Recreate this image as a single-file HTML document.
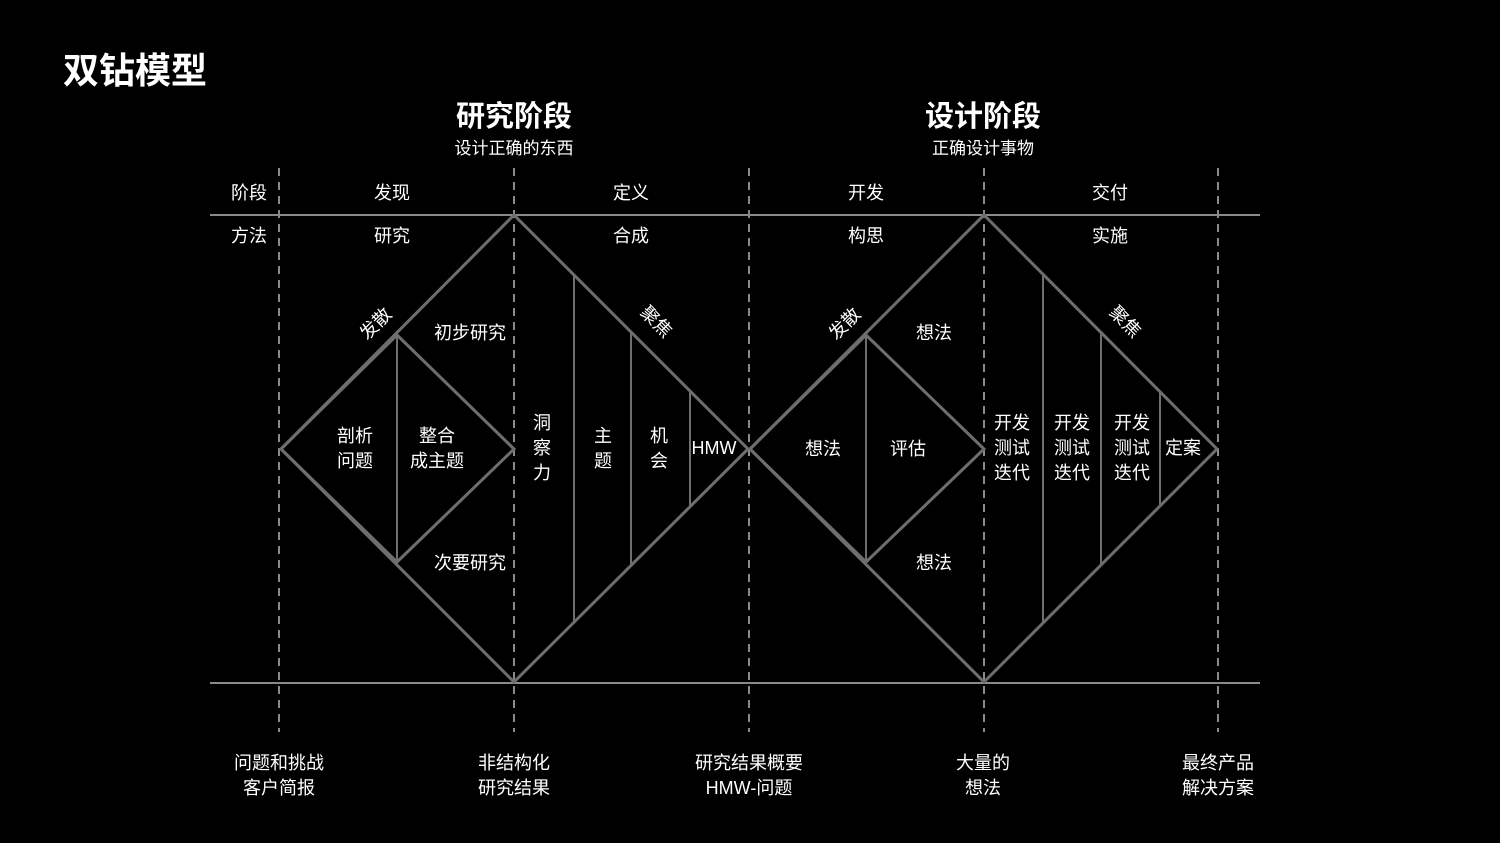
<!DOCTYPE html>
<html><head><meta charset="utf-8"><style>
html,body{margin:0;padding:0;background:#000;}
svg{display:block}
text{font-family:"Liberation Sans","Noto Sans CJK SC",sans-serif;fill:#fff;}
</style></head><body>
<svg width="1500" height="843" viewBox="0 0 1500 843" xmlns="http://www.w3.org/2000/svg">
<rect width="1500" height="843" fill="#000"/>
<text x="63" y="83" font-size="36" font-weight="bold">双钻模型</text>
<g text-anchor="middle">
<text x="514" y="126" font-size="29" font-weight="bold">研究阶段</text>
<text x="514" y="154" font-size="17">设计正确的东西</text>
<text x="983" y="126" font-size="29" font-weight="bold">设计阶段</text>
<text x="983" y="154" font-size="17">正确设计事物</text>
</g>
<g stroke="#8a8a8a" stroke-width="2" stroke-dasharray="8,6">
<line x1="279" y1="168" x2="279" y2="732"/>
<line x1="514" y1="168" x2="514" y2="732"/>
<line x1="749" y1="168" x2="749" y2="732"/>
<line x1="984" y1="168" x2="984" y2="732"/>
<line x1="1218" y1="168" x2="1218" y2="732"/>
</g>
<g stroke="#8a8a8a" stroke-width="2">
<line x1="210" y1="215" x2="1260" y2="215"/>
<line x1="210" y1="683" x2="1260" y2="683"/>
</g>
<g stroke="#6e6e6e" stroke-width="3" fill="none">
<polygon points="514,215 748,449 514,682 281,449"/>
<polygon points="281,449 397,335 514,449 397,562"/>
<polygon points="984,215 1217,449 984,682 750,449"/>
<polygon points="750,449 866,335 984,449 866,562"/>
</g>
<g stroke="#6e6e6e" stroke-width="2">
<line x1="397" y1="335" x2="397" y2="562"/>
<line x1="574" y1="275" x2="574" y2="622"/>
<line x1="631" y1="332" x2="631" y2="565"/>
<line x1="690" y1="391" x2="690" y2="506"/>
<line x1="866" y1="335" x2="866" y2="562"/>
<line x1="1043" y1="275" x2="1043" y2="622"/>
<line x1="1101" y1="332" x2="1101" y2="565"/>
<line x1="1160" y1="391" x2="1160" y2="506"/>
</g>
<g font-size="18" text-anchor="middle">
<text x="249" y="199">阶段</text>
<text x="392" y="199">发现</text>
<text x="631" y="199">定义</text>
<text x="866" y="199">开发</text>
<text x="1110" y="199">交付</text>
<text x="249" y="242">方法</text>
<text x="392" y="242">研究</text>
<text x="631" y="242">合成</text>
<text x="866" y="242">构思</text>
<text x="1110" y="242">实施</text>
<text x="470" y="339">初步研究</text>
<text x="470" y="569">次要研究</text>
<text x="355" y="442">剖析</text><text x="355" y="467">问题</text>
<text x="437" y="442">整合</text><text x="437" y="467">成主题</text>
<text x="542" y="429">洞</text><text x="542" y="454">察</text><text x="542" y="479">力</text>
<text x="603" y="442">主</text><text x="603" y="467">题</text>
<text x="659" y="442">机</text><text x="659" y="467">会</text>
<text x="714" y="454">HMW</text>
<text x="934" y="339">想法</text>
<text x="934" y="569">想法</text>
<text x="823" y="455">想法</text>
<text x="908" y="455">评估</text>
<text x="1012" y="429">开发</text><text x="1012" y="454">测试</text><text x="1012" y="479">迭代</text>
<text x="1072" y="429">开发</text><text x="1072" y="454">测试</text><text x="1072" y="479">迭代</text>
<text x="1132" y="429">开发</text><text x="1132" y="454">测试</text><text x="1132" y="479">迭代</text>
<text x="1183" y="454">定案</text>
<text transform="translate(380,328) rotate(-45)">发散</text>
<text transform="translate(652,326) rotate(45)">聚焦</text>
<text transform="translate(849,328) rotate(-45)">发散</text>
<text transform="translate(1121,326) rotate(45)">聚焦</text>
<text x="279" y="769">问题和挑战</text><text x="279" y="794">客户简报</text>
<text x="514" y="769">非结构化</text><text x="514" y="794">研究结果</text>
<text x="749" y="769">研究结果概要</text><text x="749" y="794">HMW-问题</text>
<text x="983" y="769">大量的</text><text x="983" y="794">想法</text>
<text x="1218" y="769">最终产品</text><text x="1218" y="794">解决方案</text>
</g>
</svg>
</body></html>
